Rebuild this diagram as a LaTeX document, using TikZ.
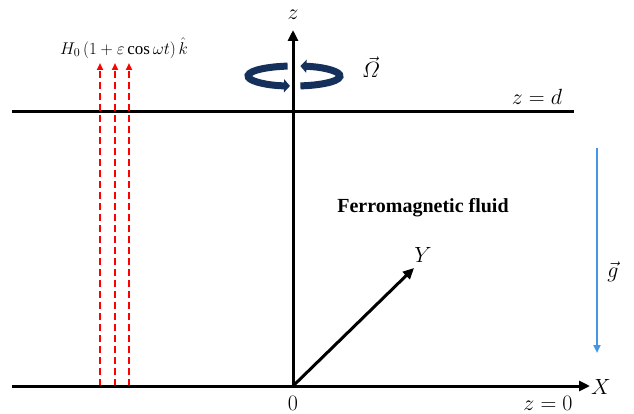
\RequirePackage{fix-cm}
\documentclass[tikz,border=0pt]{standalone}
\usepackage{amsmath}
\usepackage{fontspec}
\setmainfont{Liberation Serif}
\usetikzlibrary{arrows.meta}
\definecolor{navy}{RGB}{22,48,92}
\definecolor{gblue}{RGB}{70,150,230}
\begin{document}
\begin{tikzpicture}[x=1pt,y=-1pt,
 axis/.style={line width=3pt,-{Triangle[length=11pt,width=10pt]}},
 plate/.style={line width=3pt},
 field/.style={red, line width=1.8pt, dash pattern=on 7pt off 4pt, -{Triangle[length=7pt,width=6pt]}},
 rot/.style={navy, line width=7pt, -{Triangle[length=6pt,width=13pt]}},
 lab/.style={font=\fontsize{22}{24}\selectfont, inner sep=0pt}]
\useasboundingbox (0,0) rectangle (634,414);
\coordinate (O) at (293,386);
\coordinate (Xl) at (12,386);
\coordinate (Xe) at (590,386);
\coordinate (Ze) at (293,30);
\coordinate (Ye) at (414,268);
\coordinate (Tl) at (12,112);
\coordinate (Tr) at (574,112);
\coordinate (Rc) at (294,76);
\foreach \i/\x in {1/100,2/115,3/129}{
  \coordinate (fb\i) at (\x,386);
  \coordinate (ft\i) at (\x,63);
}
\coordinate (gt) at (597,148);
\coordinate (gb) at (597,353);
\draw[plate] (Tl) -- (Tr);
\draw[field] (fb1) -- (ft1);
\draw[field] (fb2) -- (ft2);
\draw[field] (fb3) -- (ft3);
\draw[axis] (Xl) -- (Xe);
\draw[axis] (O) -- (Ze);
\draw[axis] (O) -- (Ye);
\draw[gblue, line width=2pt, -{Triangle[length=8pt,width=7pt]}] (gt) -- (gb);
\draw[rot] (Rc) ++(262:46 and 10) arc[start angle=262, end angle=95, x radius=46, y radius=10];
\draw[rot] (Rc) ++(82:46 and 10) arc[start angle=82, end angle=-82, x radius=46, y radius=10];
\node[lab] (zl) at (293,15) {$z$};
\node[lab] (Xlab) at (601,387) {$X$};
\node[lab] (Ylab) at (423,255) {$Y$};
\node[lab] (zero) at (293,403) {$0$};
\node[lab] (z0) at (548,403) {$z=0$};
\node[lab] (zd) at (537,97) {$z=d$};
\node[lab] (om) at (371,67) {$\vec{\varOmega}$};
\node[lab] (gl) at (613,272) {$\vec{g}$};
\node[font=\bfseries\fontsize{20}{22}\selectfont, inner sep=0pt] (ff) at (423,208) {Ferromagnetic fluid};
\node[font=\fontsize{17}{19}\selectfont, inner sep=0pt] (H) at (124,48) {$H_0\left(1+\varepsilon\cos\omega t\right)\hat{k}$};
\end{tikzpicture}
\end{document}
